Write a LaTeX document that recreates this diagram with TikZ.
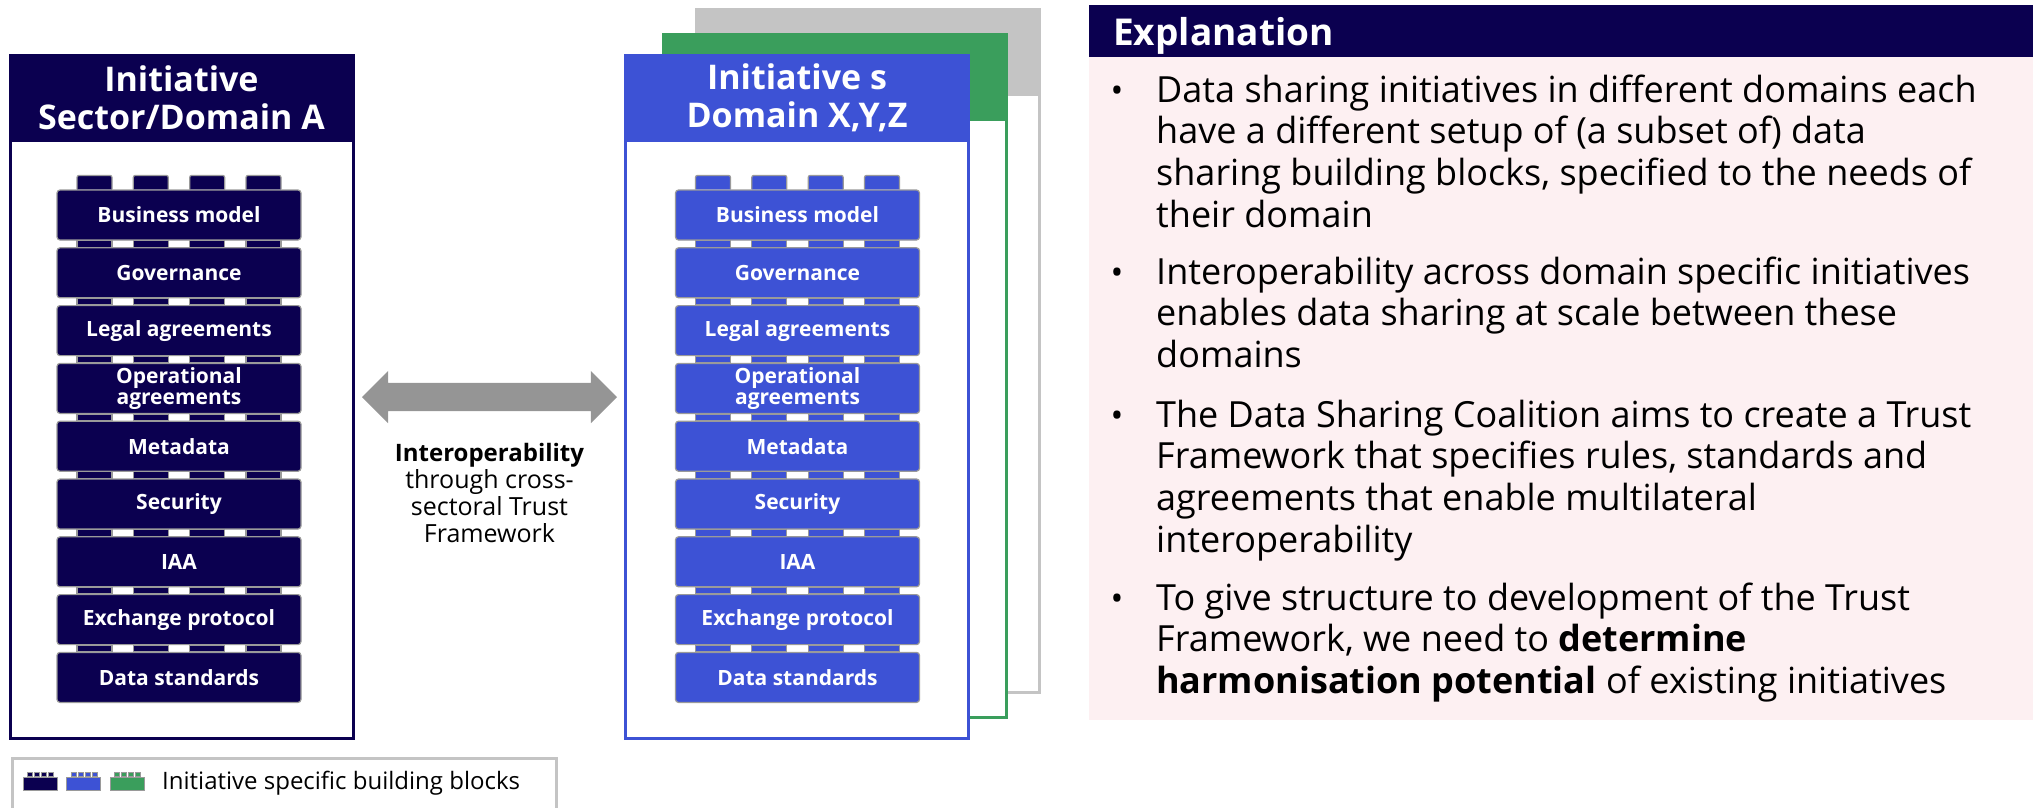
\documentclass[tikz,border=0pt]{standalone}
\usepackage{fontspec}
\setmainfont{Open Sans}
\usetikzlibrary{positioning,shapes.arrows}
\definecolor{dscnavy}{HTML}{0B0050}
\definecolor{dscblue}{HTML}{3D52D5}
\definecolor{dscgreen}{HTML}{3A9E5C}
\definecolor{dscgray}{HTML}{C4C4C4}
\definecolor{arrowgray}{HTML}{959595}
\definecolor{explpink}{HTML}{FDF0F2}
\definecolor{brickedge}{HTML}{9A9A9A}
\begin{document}
\begin{tikzpicture}[x=1pt,y=-1pt,node distance=6.6pt and 8pt,
panel/.style={
% The frame:
rectangle,
draw=#1,line width=3pt,fill=white,
minimum width=343pt,minimum height=683pt
},
header/.style={
rectangle,fill=#1,inner sep=0pt,
minimum width=343pt,minimum height=88pt,
text=white,align=center,
font=\bfseries\fontsize{34}{38}\selectfont
},
brick/.style={
rectangle,rounded corners=3pt,
fill=#1,draw=brickedge,line width=1.2pt,
minimum width=244pt,minimum height=50pt,inner sep=0pt,
text=white,align=center,
font=\bfseries\fontsize{21}{21}\selectfont
},
stud/.style={fill=#1,draw=brickedge,line width=1.2pt},
legbrick/.style={
rectangle,fill=#1,draw=brickedge,line width=0.8pt,
minimum width=34pt,minimum height=13pt,inner sep=0pt
},
% base west = baseline of the last line
bullettext/.style={
anchor=base west,inner sep=0pt,align=left,
font=\fontsize{36}{41.7}\selectfont
},
bulletdot/.style={anchor=base,inner sep=0pt,font=\fontsize{34}{40}\selectfont}
]
\useasboundingbox (0,0) rectangle (2033,807);
% Panels, back to front:
\node[panel=dscgray] (panelZ) at (868,350.5) {};
\node[header=dscgray,anchor=north] (headZ) at (panelZ.north) {};
\node[panel=dscgreen] (panelY) at (834.5,375.5) {};
\node[header=dscgreen,anchor=north] (headY) at (panelY.north) {};
\node[panel=dscblue] (panelX) at (797,396.5) {};
\node[header=dscblue,anchor=north] (headX) at (panelX.north) {Initiative s\\Domain X,Y,Z};
\node[panel=dscnavy] (panelA) at (181.5,396.5) {};
\node[header=dscnavy,anchor=north] (headA) at (panelA.north) {Initiative\\Sector/Domain A};
% Left stack:
\node[brick=dscnavy] (lbm) at (179,215) {Business model};
\node[brick=dscnavy,below=of lbm] (lgov) {Governance};
\node[brick=dscnavy,below=of lgov] (llegal) {Legal agreements};
\node[brick=dscnavy,below=of llegal] (lops) {Operational\\agreements};
\node[brick=dscnavy,below=of lops] (lmeta) {Metadata};
\node[brick=dscnavy,below=of lmeta] (lsec) {Security};
\node[brick=dscnavy,below=of lsec] (liaa) {IAA};
\node[brick=dscnavy,below=of liaa] (lexch) {Exchange protocol};
\node[brick=dscnavy,below=of lexch] (ldata) {Data standards};
% Right stack:
\node[brick=dscblue] (rbm) at (797.5,215) {Business model};
\node[brick=dscblue,below=of rbm] (rgov) {Governance};
\node[brick=dscblue,below=of rgov] (rlegal) {Legal agreements};
\node[brick=dscblue,below=of rlegal] (rops) {Operational\\agreements};
\node[brick=dscblue,below=of rops] (rmeta) {Metadata};
\node[brick=dscblue,below=of rmeta] (rsec) {Security};
\node[brick=dscblue,below=of rsec] (riaa) {IAA};
\node[brick=dscblue,below=of riaa] (rexch) {Exchange protocol};
\node[brick=dscblue,below=of rexch] (rdata) {Data standards};
% Studs:
\foreach \s in {-84.5,-28.2,28.2,84.5} {
  \draw[stud=dscnavy,rounded corners=2pt] ([xshift=\s-17.5]lbm.north) -- ++(0,-14) -- ++(35,0) -- ++(0,14);
  \draw[stud=dscblue,rounded corners=2pt] ([xshift=\s-17.5]rbm.north) -- ++(0,-14) -- ++(35,0) -- ++(0,14);
  \foreach \b in {lgov,llegal,lops,lmeta,lsec,liaa,lexch,ldata}
    \draw[stud=dscnavy] ([xshift=\s-17.5]\b.north) rectangle ++(35,-6.6);
  \foreach \b in {rgov,rlegal,rops,rmeta,rsec,riaa,rexch,rdata}
    \draw[stud=dscblue] ([xshift=\s-17.5]\b.north) rectangle ++(35,-6.6);
}
% Interoperability arrow:
\node[double arrow,fill=arrowgray,inner sep=14pt,
  double arrow head extend=12pt,minimum height=255pt,minimum width=52pt] (interop) at (489.5,397) {};
\node[below=32pt of interop,align=center,inner sep=0pt,
  font=\fontsize{25}{27}\selectfont] (interoptext)
  {\textbf{\fontsize{24}{27}\selectfont Interoperability}\\through cross-\\sectoral Trust\\Framework};
% Explanation:
\node[fill=explpink,anchor=north west,inner sep=0pt,
  minimum width=950pt,minimum height=663pt] (explbody) at (1089,57) {};
\node[fill=dscnavy,anchor=north west,inner xsep=24pt,inner ysep=0pt,
  text width=902pt,text depth=0pt,align=left,minimum height=52pt,text=white,
  font=\bfseries\fontsize{37}{40}\selectfont] (explhead) at (1089,5) {Explanation};
\node[bulletdot] (bul1) at (1117,102) {\textbullet};
\node[bullettext] (expl1) at (1156,227.1)
  {Data sharing initiatives in different domains each\\have a different setup of (a subset of) data\\sharing building blocks, specified to the needs of\\their domain};
\node[bulletdot] (bul2) at (1117,284) {\textbullet};
\node[bullettext] (expl2) at (1156,367.4)
  {Interoperability across domain specific initiatives\\enables data sharing at scale between these\\domains};
\node[bulletdot] (bul3) at (1117,427) {\textbullet};
\node[bullettext] (expl3) at (1156,552.1)
  {The Data Sharing Coalition aims to create a Trust\\Framework that specifies rules, standards and\\agreements that enable multilateral\\interoperability};
\node[bulletdot] (bul4) at (1117,610) {\textbullet};
\node[bullettext] (expl4) at (1156,693.4)
  {To give structure to development of the Trust\\Framework, we need to \textbf{determine}\\\textbf{harmonisation potential} of existing initiatives};
% Legend:
\node[draw=dscgray,line width=2.5pt,anchor=north west,inner sep=0pt,
  minimum width=544pt,minimum height=70pt] (legend) at (11,757) {};
\node[legbrick=dscnavy] (legnavy) at (40,783.5) {};
\node[legbrick=dscblue,right=9pt of legnavy] (legblue) {};
\node[legbrick=dscgreen,right=9pt of legblue] (leggreen) {};
\foreach \b/\c in {legnavy/dscnavy,legblue/dscblue,leggreen/dscgreen}
  \foreach \s in {-10.5,-3.5,3.5,10.5}
    \draw[stud=\c,line width=0.5pt] ([xshift=\s-2.5]\b.north) rectangle ++(5,-4);
\node[right=17pt of leggreen,inner sep=0pt,font=\fontsize{24}{28}\selectfont] (legtext) {Initiative specific building blocks};
\end{tikzpicture}
\end{document}
